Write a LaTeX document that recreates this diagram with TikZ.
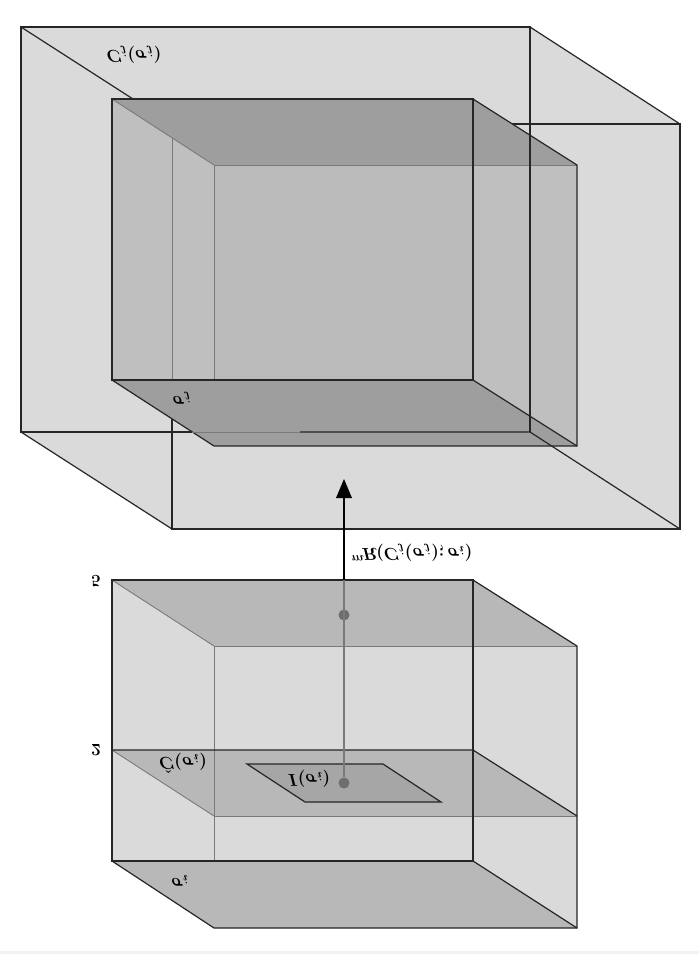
\documentclass[tikz,border=0pt]{standalone}
\definecolor{wallgray}{gray}{0.855}
\definecolor{innergray}{gray}{0.73}
\definecolor{sidegray}{gray}{0.75}
\definecolor{capgray}{gray}{0.62}
\definecolor{slabgray}{gray}{0.72}
\definecolor{basegray}{gray}{0.65}
\definecolor{edgegray}{gray}{0.48}
\definecolor{inkgray}{gray}{0.15}
\tikzset{
  mirrored/.style={yscale=-1, font=\LARGE\boldmath, inner sep=0pt},
  edge/.style={inkgray, line width=1.2pt},
  backedge/.style={edgegray, line width=0.9pt},
  spot/.style={circle, fill=edgegray!90!black, inner sep=0pt, minimum size=11pt}
}
\begin{document}
\begin{tikzpicture}[x=1pt, y=-1pt]
  \useasboundingbox (0,0) rectangle (699,954);
  \fill[gray!10] (0,951) rectangle (699,954);
  \fill[wallgray] (21,27) -- (530,27) -- (680,124) -- (680,529) -- (172,529) -- (21,432) -- cycle;
  \draw[edge] (21,27) rectangle (530,432);
  \draw[edge] (512,124) -- (680,124) -- (680,529) -- (172,529) -- (172,419);
  \draw[edge] (21,27) -- (133,99);
  \draw[edge] (530,27) -- (680,124);
  \draw[edge] (21,432) -- (172,529);
  \fill[sidegray] (112,99) -- (214,165) -- (214,446) -- (112,380) -- cycle;
  \fill[innergray] (214,165) rectangle (577,446);
  \fill[sidegray] (473,99) -- (577,165) -- (577,446) -- (473,380) -- cycle;
  \fill[capgray] (112,99) -- (473,99) -- (577,165) -- (214,165) -- cycle;
  \fill[capgray] (112,380) -- (473,380) -- (577,446) -- (214,446) -- cycle;
  \draw[backedge] (172,138) -- (172,380);
  \draw[backedge] (214,165) -- (214,380);
  \draw[backedge] (214,165) -- (577,165);
  \draw[backedge] (112,99) -- (214,165);
  \draw[edge] (112,99) rectangle (473,380);
  \draw[edge] (473,99) -- (577,165) -- (577,446) -- (214,446) -- (112,380);
  \draw[edge] (473,380) -- (577,446);
  \draw[edge] (530,27) -- (530,432);
  \draw[backedge] (192,432) -- (300,432);
  \draw[edge] (300,432) -- (530,432) -- (680,529);
  \draw[edge] (21,432) -- (192,432);
  \node[mirrored] (upperbox) at (134,55) {$C_j(\sigma_j)$};
  \node[mirrored] (upperbase) at (182,398) {$\sigma_j$};

  \fill[wallgray] (112,580) -- (473,580) -- (577,646) -- (577,928) -- (214,928) -- (112,861) -- cycle;
  \fill[slabgray] (112,580) -- (473,580) -- (577,646) -- (214,646) -- cycle;
  \fill[slabgray] (112,750) -- (473,750) -- (577,816) -- (214,816) -- cycle;
  \fill[slabgray] (112,861) -- (473,861) -- (577,928) -- (214,928) -- cycle;
  \draw[backedge] (214,646) -- (214,861);
  \draw[backedge] (214,646) -- (577,646);
  \draw[backedge] (214,816) -- (577,816);
  \draw[backedge] (112,580) -- (214,646);
  \draw[backedge] (112,750) -- (214,816);
  \draw[edge] (112,580) rectangle (473,861);
  \draw[edge] (112,750) -- (473,750) -- (577,816);
  \draw[edge] (473,580) -- (577,646) -- (577,928) -- (214,928) -- (112,861);
  \draw[edge] (473,861) -- (577,928);
  \draw[edge, fill=basegray] (247,764) -- (383,764) -- (441,802) -- (305,802) -- cycle;

  \coordinate (rim) at (344,580);
  \coordinate (tip) at (344,479);
  \node[spot] (upperspot) at (344,615) {};
  \node[spot] (lowerspot) at (344,783) {};
  \draw[backedge, line width=2.2pt] (rim) -- (lowerspot);
  \draw[black, line width=2.8pt] (rim) -- (344,495);
  \fill[black] (tip) -- (352,498) -- (336,498) -- cycle;

  \node[mirrored] (height) at (412,553) {${}^{m}\!R(C_j(\sigma_j);\sigma_i)$};
  \node[mirrored] (top) at (96,581) {$5$};
  \node[mirrored] (mid) at (96,750) {$2$};
  \node[mirrored] (plane) at (183,763) {$\hat{C}(\sigma_i)$};
  \node[mirrored] (patch) at (309,779) {$I(\sigma_i)$};
  \node[mirrored] (lowerbase) at (180,881) {$\sigma_i$};
\end{tikzpicture}
\end{document}
